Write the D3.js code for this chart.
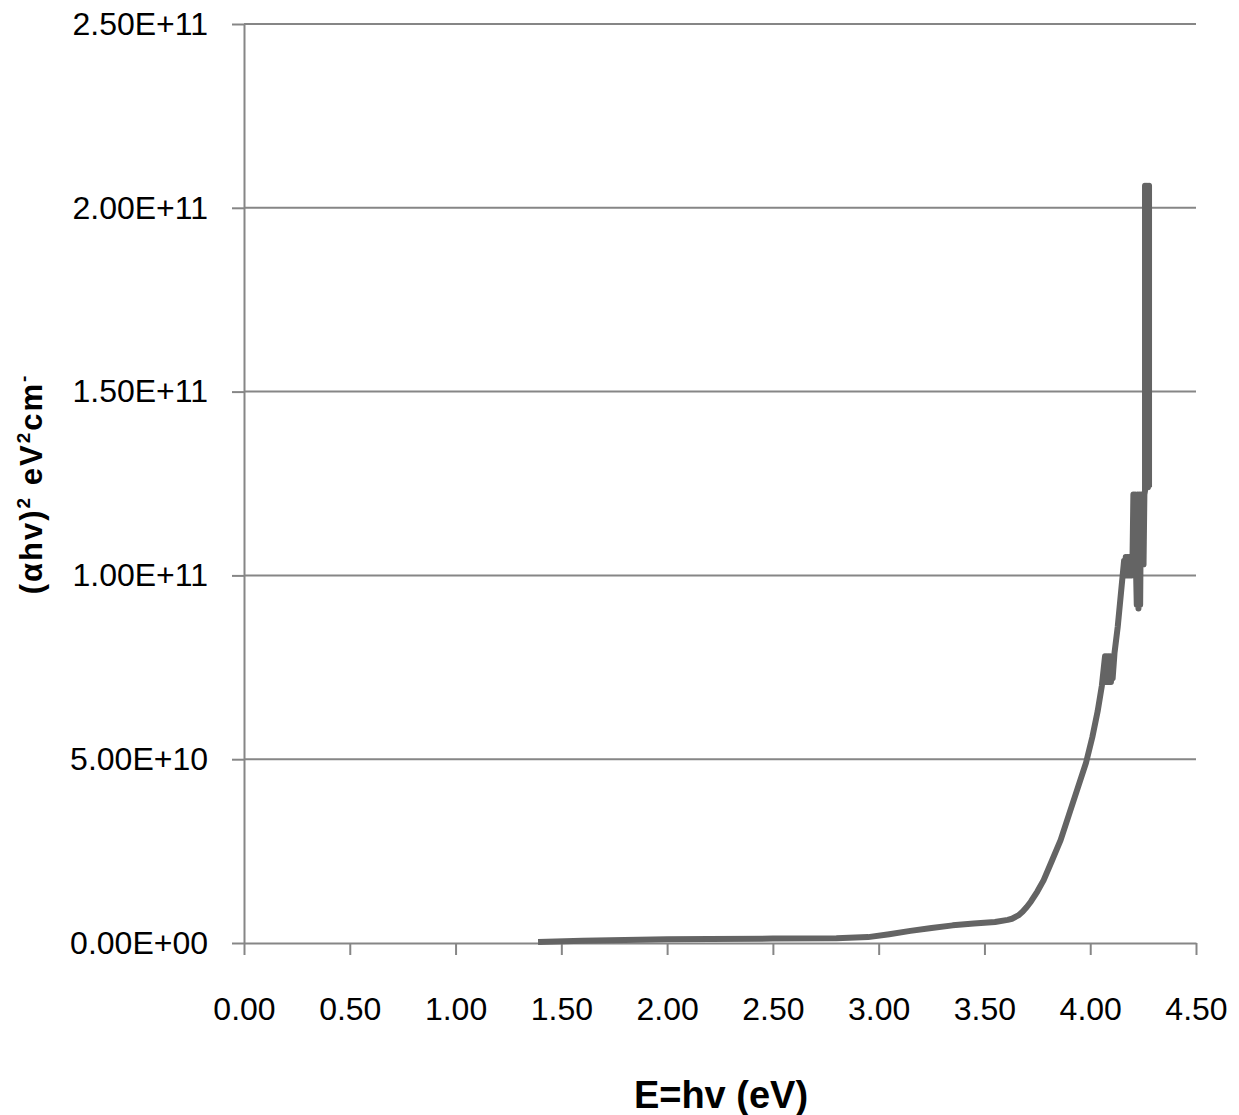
<!DOCTYPE html>
<html>
<head>
<meta charset="utf-8">
<script src="https://cdn.jsdelivr.net/npm/d3@7"></script>
<style>
  body { margin: 0; background: #fff; }
  svg { display: block; }
</style>
</head>
<body>
<div id="chart"></div>
<script>
// photon energy (eV) and (alpha h nu)^2
const energy = [1.39, 1.6, 1.8, 2.0, 2.2, 2.5, 2.8, 2.95, 3.05, 3.15, 3.25, 3.35, 3.45, 3.55, 3.61,
                3.63, 3.66, 3.68, 3.70, 3.72, 3.75, 3.78, 3.82, 3.86, 3.90, 3.94, 3.98, 4.01, 4.035, 4.055,
                4.07, 4.073, 4.078, 4.082, 4.086, 4.09, 4.094, 4.098, 4.102, 4.106, 4.115, 4.13, 4.16,
                4.164, 4.168, 4.172, 4.176, 4.18, 4.184, 4.188, 4.192, 4.196, 4.20,
                4.204, 4.208, 4.212, 4.216, 4.22, 4.224, 4.228, 4.232, 4.236, 4.24, 4.244, 4.248,
                4.252, 4.256, 4.259, 4.259, 4.263, 4.268, 4.273, 4.278, 4.278];
const alphaHv2 = [0.003e11, 0.006e11, 0.008e11, 0.010e11, 0.011e11, 0.012e11, 0.013e11, 0.016e11, 0.024e11,
                  0.033e11, 0.041e11, 0.048e11, 0.053e11, 0.057e11, 0.063e11,
                  0.066e11, 0.075e11, 0.085e11, 0.098e11, 0.113e11, 0.14e11, 0.171e11, 0.225e11, 0.28e11,
                  0.35e11, 0.42e11, 0.49e11, 0.56e11, 0.63e11, 0.70e11,
                  0.78e11, 0.71e11, 0.78e11, 0.71e11, 0.78e11, 0.71e11, 0.78e11, 0.71e11, 0.78e11, 0.72e11,
                  0.79e11, 0.86e11, 1.04e11,
                  1.0e11, 1.05e11, 1.0e11, 1.05e11, 1.0e11, 1.05e11, 1.0e11, 1.05e11, 1.0e11, 1.05e11,
                  1.22e11, 1.03e11, 1.22e11, 1.03e11, 0.92e11, 1.22e11, 0.91e11, 1.22e11, 0.92e11, 1.22e11,
                  1.03e11, 1.22e11,
                  1.03e11, 1.22e11, 1.23e11, 2.06e11, 1.24e11, 2.06e11, 1.24e11, 2.06e11, 1.24e11];

const xTicks = [0, 0.5, 1.0, 1.5, 2.0, 2.5, 3.0, 3.5, 4.0, 4.5];
const xTickLabels = ["0.00", "0.50", "1.00", "1.50", "2.00", "2.50", "3.00", "3.50", "4.00", "4.50"];
const yTicks = [0, 5e10, 1e11, 1.5e11, 2e11, 2.5e11];
const yTickLabels = ["0.00E+00", "5.00E+10", "1.00E+11", "1.50E+11", "2.00E+11", "2.50E+11"];

const width = 1239;
const height = 1115;
const plotLeft = 244, plotRight = 1196, plotTop = 24, plotBottom = 943;

const gridColor = "#868686";
const lineColor = "#646464";

const svg = d3.select("#chart")
    .append("svg")
    .attr("width", width)
    .attr("height", height)
    .style("font-family", "'Liberation Sans', Arial, sans-serif");

svg.append("rect").attr("width", width).attr("height", height).attr("fill", "#fff");

const x = d3.scaleLinear().domain([0, 4.5]).range([plotLeft, plotRight]);
const y = d3.scaleLinear().domain([0, 2.5e11]).range([plotBottom, plotTop]);

// horizontal gridlines
svg.append("g")
    .selectAll("line")
    .data(yTicks.slice(1))
    .enter()
    .append("line")
    .attr("x1", plotLeft)
    .attr("x2", plotRight)
    .attr("y1", d => y(d))
    .attr("y2", d => y(d))
    .attr("stroke", gridColor)
    .attr("stroke-width", 2);

// y axis
const yAxis = svg.append("g")
    .attr("transform", "translate(" + plotLeft + ",0)")
    .call(d3.axisLeft(y)
        .tickValues(yTicks)
        .tickFormat((d, i) => yTickLabels[i])
        .tickSize(12)
        .tickSizeOuter(0)
        .tickPadding(24));

// x axis
const xAxis = svg.append("g")
    .attr("transform", "translate(0," + plotBottom + ")")
    .call(d3.axisBottom(x)
        .tickValues(xTicks)
        .tickFormat((d, i) => xTickLabels[i])
        .tickSize(12)
        .tickSizeOuter(0)
        .tickPadding(42));

[xAxis, yAxis].forEach(ax => {
    ax.select(".domain").attr("stroke", gridColor).attr("stroke-width", 2);
    ax.selectAll(".tick line").attr("stroke", gridColor).attr("stroke-width", 2);
    ax.selectAll(".tick text")
        .attr("fill", "#000")
        .style("font-size", "32px")
        .style("font-family", "'Liberation Sans', Arial, sans-serif");
});

// the curve
const pts = energy.map((e, i) => [e, alphaHv2[i]]);
const line = d3.line().x(d => x(d[0])).y(d => y(d[1]));

svg.append("path")
    .datum(pts)
    .attr("d", line)
    .attr("fill", "none")
    .attr("stroke", lineColor)
    .attr("stroke-width", 6)
    .attr("stroke-linejoin", "round");

// axis titles
svg.append("text")
    .attr("x", 721)
    .attr("y", 1108)
    .attr("text-anchor", "middle")
    .style("font-size", "38px")
    .style("font-weight", "bold")
    .text("E=hv (eV)");

const yTitle = svg.append("text")
    .attr("transform", "translate(42,484) rotate(-90)")
    .attr("text-anchor", "middle")
    .style("font-size", "31px")
    .style("font-weight", "bold")
    .style("letter-spacing", "2px");
yTitle.append("tspan").text("(\u03b1hv)");
yTitle.append("tspan").attr("dy", -12).style("font-size", "19px").text("2");
yTitle.append("tspan").attr("dy", 12).text(" eV");
yTitle.append("tspan").attr("dy", -12).style("font-size", "19px").text("2");
yTitle.append("tspan").attr("dy", 12).text("cm");
yTitle.append("tspan").attr("dy", -12).style("font-size", "19px").text("-");
</script>
</body>
</html>
